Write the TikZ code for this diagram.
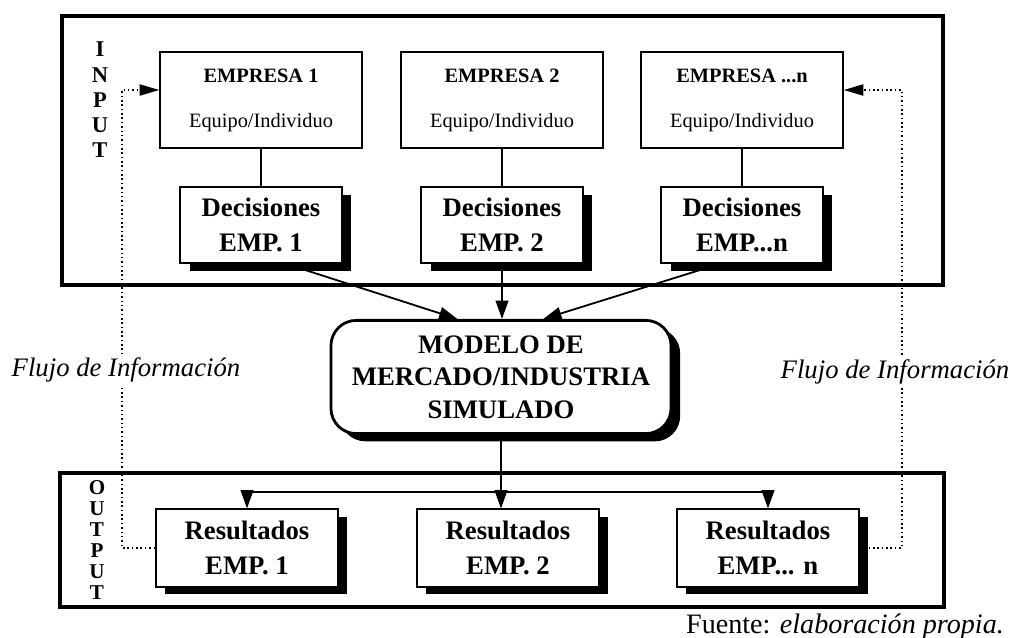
\documentclass[tikz,border=0pt]{standalone}
\usepackage{fontspec}
\setmainfont{Liberation Serif}
\usetikzlibrary{arrows.meta,shadows}

\begin{document}
\begin{tikzpicture}[x=0.025cm,y=-0.025cm,
  marco/.style={line width=2.8pt},
  empresa/.style={draw,line width=1.1pt,minimum width=5.05cm,minimum height=2.4cm,align=center,inner sep=0pt,font=\fontsize{14.5}{17}\selectfont},
  caja/.style={draw,fill=white,line width=1.3pt,align=center,inner sep=0pt,font=\fontsize{19}{25}\selectfont\bfseries,
    drop shadow={shadow xshift=6.5pt,shadow yshift=-5.5pt,fill=black,opacity=1}},
  flecha/.style={line width=1.3pt,-{Triangle[length=13pt,width=9pt]}},
  flujo/.style={dotted,line width=1.1pt},
  rotulo/.style={align=center,font=\fontsize{16}{18}\selectfont\bfseries,inner sep=0pt}]
\useasboundingbox (0,0) rectangle (1014,638);
%arriba
\draw[marco] (62,16) rectangle (943,285);
\node[rotulo] (input) at (100,100) {I\\N\\P\\U\\T};
\node[empresa] (emp1) at (261,100) {\textbf{EMPRESA 1}\\[15pt]Equipo/Individuo};
\node[empresa] (emp2) at (502,100) {\textbf{EMPRESA 2}\\[15pt]Equipo/Individuo};
\node[empresa] (empn) at (742,100) {\textbf{EMPRESA ...n}\\[15pt]Equipo/Individuo};
\node[caja,minimum width=4.03cm,minimum height=1.9cm] (dec1) at (261,225) {Decisiones\\EMP. 1};
\node[caja,minimum width=4.03cm,minimum height=1.9cm] (dec2) at (502,225) {Decisiones\\EMP. 2};
\node[caja,minimum width=4.03cm,minimum height=1.9cm] (decn) at (742,225) {Decisiones\\EMP...n};
\draw[line width=1.1pt] (emp1) -- (dec1);
\draw[line width=1.1pt] (emp2) -- (dec2);
\draw[line width=1.1pt] (empn) -- (decn);
%modelo
\node[caja,rounded corners=18pt,line width=2pt,minimum width=8.5cm,minimum height=2.83cm,
  font=\fontsize{19}{23}\selectfont\bfseries] (modelo) at (501,377) {MODELO DE\\MERCADO/INDUSTRIA\\SIMULADO};
\draw[flecha] ([xshift=18pt]dec1.south) -- ([xshift=-31pt]modelo.north);
\draw[flecha] (dec2.south) -- (dec2.south |- modelo.north);
\draw[flecha] ([xshift=-16pt]decn.south) -- ([xshift=30pt]modelo.north);
%abajo
\draw[marco] (60,473) rectangle (944,607);
\node[rotulo,font=\fontsize{15}{15}\selectfont\bfseries] (output) at (97,540) {O\\U\\T\\P\\U\\T};
\node[caja,minimum width=4.55cm,minimum height=1.93cm] (res1) at (247,548) {Resultados\\EMP. 1};
\node[caja,minimum width=4.55cm,minimum height=1.93cm] (res2) at (508,548) {Resultados\\EMP. 2};
\node[caja,minimum width=4.55cm,minimum height=1.93cm] (resn) at (768,548) {Resultados\\EMP... n};
\coordinate (rama) at (501,492);
\draw[line width=1.3pt] (modelo.south) -- (rama);
\draw[flecha] (rama) -| (res1.north);
\draw[flecha] (rama) -| (resn.north);
\draw[flecha] (rama) -- (rama |- res2.north);
%flujo de informacion
\coordinate (fl1) at (122,90);
\coordinate (fr1) at (902,90);
\draw[flujo,-{Triangle[length=14pt,width=8pt]}] (res1.west) -| (fl1) -- (fl1 -| emp1.west);
\draw[flujo,-{Triangle[length=14pt,width=8pt]}] (resn.east) -| (fr1) -- (fr1 -| empn.east);
\node[fill=white,inner sep=2pt,font=\fontsize{19}{23}\selectfont\itshape] (flujoi) at (126,370) {Flujo de Información};
\node[fill=white,inner sep=2pt,font=\fontsize{19}{23}\selectfont\itshape] (flujod) at (895,372) {Flujo de Información};
\node[anchor=base,inner sep=0pt,font=\fontsize{20}{24}\selectfont] (fuente) at (845,633) {Fuente: \textit{elaboración propia.}};
\end{tikzpicture}
\end{document}
